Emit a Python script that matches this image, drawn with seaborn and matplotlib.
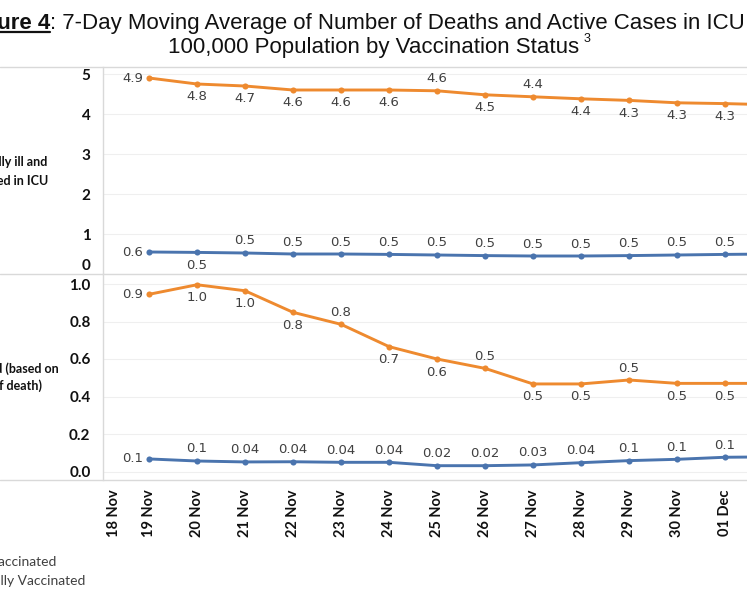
import numpy as np
import pandas as pd
import matplotlib
matplotlib.use("Agg")
import matplotlib.pyplot as plt
import matplotlib.transforms as mtransforms
import seaborn as sns
from matplotlib.lines import Line2D

# ---------------- data ----------------
dates = ["19 Nov", "20 Nov", "21 Nov", "22 Nov", "23 Nov", "24 Nov", "25 Nov",
         "26 Nov", "27 Nov", "28 Nov", "29 Nov", "30 Nov", "01 Dec", "02 Dec"]
first_tick_label = "18 Nov"
statuses = ["Unvaccinated", "Fully Vaccinated"]

icu_unvax = [4.90, 4.75, 4.70, 4.60, 4.60, 4.60, 4.58, 4.48, 4.43, 4.38, 4.34, 4.28, 4.26, 4.23]
icu_vax = [0.55, 0.54, 0.525, 0.50, 0.50, 0.49, 0.475, 0.46, 0.45, 0.45, 0.46, 0.475, 0.49, 0.50]
death_unvax = [0.945, 0.996, 0.964, 0.849, 0.785, 0.666, 0.600, 0.550, 0.467, 0.467, 0.488, 0.470, 0.470, 0.470]
death_vax = [0.067, 0.056, 0.051, 0.052, 0.049, 0.049, 0.031, 0.031, 0.035, 0.047, 0.058, 0.065, 0.076, 0.078]

icu_unvax_labels = ["4.9", "4.8", "4.7", "4.6", "4.6", "4.6", "4.6", "4.5", "4.4", "4.4", "4.3", "4.3", "4.3", ""]
icu_vax_labels = ["0.6", "0.5", "0.5", "0.5", "0.5", "0.5", "0.5", "0.5", "0.5", "0.5", "0.5", "0.5", "0.5", ""]
death_unvax_labels = ["0.9", "1.0", "1.0", "0.8", "0.8", "0.7", "0.6", "0.5", "0.5", "0.5", "0.5", "0.5", "0.5", ""]
death_vax_labels = ["0.1", "0.1", "0.04", "0.04", "0.04", "0.04", "0.02", "0.02", "0.03", "0.04", "0.1", "0.1", "0.1", ""]

# label placement (L = left, A = above, B = below)
icu_unvax_pos = ["L", "B", "B", "B", "B", "B", "A", "B", "A", "B", "B", "B", "B", "B"]
icu_vax_pos = ["L", "B", "A", "A", "A", "A", "A", "A", "A", "A", "A", "A", "A", "A"]
death_unvax_pos = ["L", "B", "B", "B", "A", "B", "B", "A", "B", "B", "A", "B", "B", "B"]
death_vax_pos = ["L", "A", "A", "A", "A", "A", "A", "A", "A", "A", "A", "A", "A", "A"]

ORANGE = "#EE8A2F"
BLUE = "#4A74AE"
palette = {"Unvaccinated": ORANGE, "Fully Vaccinated": BLUE}

pos = np.arange(len(dates))
df_icu = pd.DataFrame({
    "pos": np.concatenate([pos, pos]),
    "value": icu_unvax + icu_vax,
    "status": [statuses[0]] * len(dates) + [statuses[1]] * len(dates),
})
df_death = pd.DataFrame({
    "pos": np.concatenate([pos, pos]),
    "value": death_unvax + death_vax,
    "status": [statuses[0]] * len(dates) + [statuses[1]] * len(dates),
})

# ---------------- style ----------------
sns.set_theme(style="white")
plt.rcParams["font.family"] = ["DejaVu Sans"]

W, H = 747, 598
fig = plt.figure(figsize=(W / 100, H / 100), dpi=100)
fig.patch.set_facecolor("white")

def fx(px):
    return px / W

def fy(py):
    return (H - py) / H

ax_l, ax_r = 103, 747
ax1 = fig.add_axes([fx(ax_l), fy(274), fx(ax_r - ax_l), (274 - 67) / H])
ax2 = fig.add_axes([fx(ax_l), fy(480), fx(ax_r - ax_l), (480 - 274) / H])

x0px, step = 149, 48.0
xlim = ((ax_l - x0px) / step, (ax_r - x0px) / step)

for ax, df in ((ax1, df_icu), (ax2, df_death)):
    sns.lineplot(data=df, x="pos", y="value", hue="status", hue_order=statuses,
                 palette=palette, marker="o", markersize=4.4, markeredgewidth=0,
                 linewidth=2.1, legend=False, ax=ax)
    ax.set_xlabel("")
    ax.set_ylabel("")
    for s in ("top", "right", "bottom"):
        ax.spines[s].set_visible(False)
    ax.spines["left"].set_color("#d9d9d9")
    ax.spines["left"].set_linewidth(1.0)
    ax.tick_params(length=0)
    ax.grid(axis="y", color="#efefef", linewidth=0.8)
    ax.grid(axis="x", visible=False)
    ax.set_axisbelow(True)

ax1.set_yticks([0, 1, 2, 3, 4, 5])
ax1.set_yticklabels(["0", "1", "2", "3", "4", "5"])
ax1.set_xticks([])
ax1.set_ylim(0, (274 - 67) / 40.0)

ax2.set_yticks([0.0, 0.2, 0.4, 0.6, 0.8, 1.0])
ax2.set_yticklabels(["0.0", "0.2", "0.4", "0.6", "0.8", "1.0"])
ax2.set_ylim(-(480 - 471.5) / 187.5, (471.5 - 274) / 187.5)

n_vis = 13  # dates inside the visible window
tick_pos = [(114 - x0px) / step] + list(pos[:n_vis])
tick_lab = [first_tick_label] + dates[:n_vis]
ax2.set_xticks(tick_pos)
ax2.set_xticklabels(tick_lab, rotation=90, fontfamily="Lato", fontweight="bold",
                    fontsize=10.5, color="#111111", va="top", ha="center")
ax2.tick_params(axis="x", pad=7)

for ax in (ax1, ax2):
    ax.set_xlim(*xlim)
    for lab in ax.get_yticklabels():
        lab.set_fontfamily("Lato")
        lab.set_fontweight("bold")
        lab.set_fontsize(11)
        lab.set_color("#111111")
    ax.tick_params(axis="y", pad=9)

# lift the "0" label of the upper panel like the original
zero_lab = ax1.get_yticklabels()[0]
zero_lab.set_transform(zero_lab.get_transform() + mtransforms.ScaledTranslation(0, 9 / 100, fig.dpi_scale_trans))

# ---------------- data labels ----------------
def add_labels(ax, values, labels, places):
    for i, (v, t, p) in enumerate(zip(values, labels, places)):
        if not t:
            continue
        if p == "L":
            off, ha, va = (-6, 0), "right", "center"
        elif p == "A":
            off, ha, va = (0, 12), "center", "center"
        else:
            off, ha, va = (0, -13), "center", "center"
        ax.annotate(t, (pos[i], v), xytext=off, textcoords="offset pixels",
                    ha=ha, va=va, fontsize=9.5, color="#404040",
                    fontfamily="DejaVu Sans", annotation_clip=True)

add_labels(ax1, icu_unvax, icu_unvax_labels, icu_unvax_pos)
add_labels(ax1, icu_vax, icu_vax_labels, icu_vax_pos)
add_labels(ax2, death_unvax, death_unvax_labels, death_unvax_pos)
add_labels(ax2, death_vax, death_vax_labels, death_vax_pos)

# ---------------- frame lines ----------------
for py in (67, 274, 480):
    fig.add_artist(Line2D([0, 1], [fy(py), fy(py)], transform=fig.transFigure,
                          color="#d9d9d9", linewidth=1.0))

# ---------------- panel labels ----------------
lab_kw = dict(fontfamily="Lato", fontweight="bold", fontsize=9, color="#111111",
              ha="right", va="center")
fig.text(fx(47), fy(162), "Critically ill and", **lab_kw)
fig.text(fx(48), fy(181), "Admitted in ICU", **lab_kw)
fig.text(fx(59), fy(369), "Died (based on", **lab_kw)
fig.text(fx(42), fy(386), "date of death)", **lab_kw)

# ---------------- legend (text part visible) ----------------
leg_kw = dict(fontfamily="Lato", fontsize=10, color="#404040", ha="right", va="center")
fig.text(fx(57), fy(562), statuses[0], **leg_kw)
fig.text(fx(85), fy(581), statuses[1], **leg_kw)

# ---------------- title ----------------
title_font = ["Liberation Sans", "DejaVu Sans"]
tsize = 16
t_fig = fig.text(fx(50), fy(29), "Figure 4", fontfamily=title_font, fontweight="bold",
                 fontsize=tsize, color="#111111", ha="right", va="baseline")
fig.text(fx(50), fy(29), ": 7-Day Moving Average of Number of Deaths and Active Cases in ICU per",
         fontfamily=title_font, fontsize=tsize, color="#111111", ha="left", va="baseline")
t2 = fig.text(fx(168), fy(53), "100,000 Population by Vaccination Status",
              fontfamily=title_font, fontsize=tsize, color="#111111", ha="left", va="baseline")

fig.canvas.draw()
r = fig.canvas.get_renderer()
bb = t_fig.get_window_extent(renderer=r)
uy = fy(32)
fig.add_artist(Line2D([bb.x0 / W, bb.x1 / W], [uy, uy], transform=fig.transFigure,
                      color="#111111", linewidth=1.6))
bb2 = t2.get_window_extent(renderer=r)
fig.text((bb2.x1 + 4) / W, fy(42), "3", fontfamily=title_font, fontsize=9,
         color="#111111", ha="left", va="baseline")

fig.savefig("out.png", dpi=100, facecolor="white")
